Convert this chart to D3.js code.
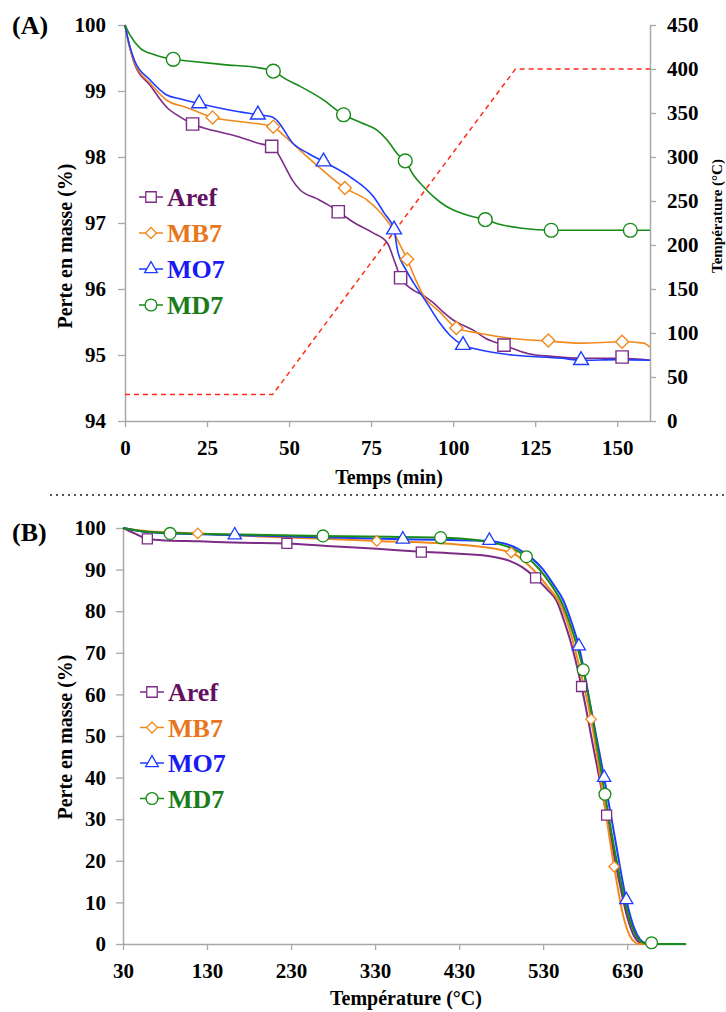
<!DOCTYPE html>
<html><head><meta charset="utf-8">
<script src="https://cdn.jsdelivr.net/npm/d3@7"></script>
<style>
body{margin:0;background:#fff}
svg text{font-family:"Liberation Serif","Times New Roman",serif;font-weight:bold;fill:#000}
</style>
</head><body><svg id="c" width="726" height="1012"></svg>
<script>
// ---------- shared ----------
const seriesNames = ["Aref", "MB7", "MO7", "MD7"];
const lineColors = ["#7B2C85", "#F08A1E", "#1E3CFF", "#178A17"];
const textColors = ["#650F63", "#E8761C", "#1A1AF5", "#1A7D1A"];
const markerTypes = ["square", "diamond", "triangle", "circle"];

// ---------- Chart A : time (min) vs mass (%) ----------
const arefA = [[0,100],[1,99.75],[3,99.4],[7.6,99.09],[12.8,98.75],[17,98.6],[20.6,98.5],[27,98.4],[33,98.33],[41.2,98.2],[44.7,98.16],[46,98.1],[48.3,97.9],[51,97.65],[53.4,97.5],[58.4,97.37],[62,97.27],[65,97.17],[70,97.0],[75.6,96.85],[79.9,96.7],[82.3,96.4],[84,96.17],[86,96.05],[88,95.98],[91,95.9],[94,95.79],[97,95.65],[100,95.53],[103,95.45],[106,95.38],[110,95.25],[115.5,95.15],[123,95.02],[130,94.98],[139,94.95],[151.5,94.95],[160,94.92]];
const mb7A = [[0,100],[1,99.75],[3,99.42],[7.6,99.12],[12.7,98.86],[18.8,98.75],[26.7,98.6],[36,98.53],[45.2,98.46],[48.3,98.33],[53.4,98.1],[59.5,97.83],[67,97.53],[73.7,97.35],[78,97.15],[81,96.95],[83.5,96.7],[86,96.45],[88.5,96.15],[91,95.9],[96,95.65],[101,95.41],[108,95.33],[118,95.25],[129,95.21],[139,95.18],[151.5,95.2],[158,95.18],[160,95.12]];
const mo7A = [[0,100],[1,99.77],[3,99.45],[7.6,99.17],[12.7,98.94],[17,98.88],[22.6,98.81],[33,98.7],[40.5,98.64],[44.7,98.61],[46.2,98.56],[51.3,98.2],[56,98.05],[60.5,97.93],[68.6,97.7],[75.7,97.4],[79,97.15],[82,96.9],[83,96.6],[85.5,96.3],[88,96.09],[92,95.79],[96,95.48],[99,95.3],[103,95.15],[108,95.08],[118,95.0],[133,94.95],[139,94.92],[150,94.93],[160,94.92]];
const md7A = [[0,100],[1.5,99.85],[4.6,99.65],[9,99.55],[14.7,99.48],[20,99.45],[30,99.4],[41,99.35],[45.2,99.3],[49,99.18],[53.4,99.07],[60,98.88],[66.6,98.64],[72,98.52],[76.7,98.41],[80,98.25],[83.3,98.03],[85.4,97.94],[88,97.72],[91,97.55],[94,97.4],[98,97.25],[103,97.14],[109.8,97.05],[115,96.97],[121,96.92],[129.9,96.89],[140,96.89],[154,96.89],[160,96.89]];
const arefMarkA = [[20.6,98.5],[44.7,98.16],[65,97.17],[84,96.17],[115.5,95.15],[151.5,94.97]];
const mb7MarkA = [[26.7,98.6],[45.2,98.46],[67,97.53],[86,96.45],[101,95.41],[129,95.22],[151.5,95.2]];
const mo7MarkA = [[22.6,98.81],[40.5,98.64],[60.5,97.93],[82,96.9],[103,95.15],[139,94.92]];
const md7MarkA = [[14.7,99.48],[45.2,99.3],[66.6,98.64],[85.4,97.94],[109.8,97.05],[129.9,96.89],[154,96.89]];
const tempA = [[0,30],[45,30],[119,400],[160,400]];
const xTicksA = [0,25,50,75,100,125,150];
const yTicksA = [94,95,96,97,98,99,100];
const y2TicksA = [0,50,100,150,200,250,300,350,400,450];

// ---------- Chart B : temperature (°C) vs mass (%) ----------
const arefB = [[30,100],[45,98.6],[59,97.4],[82,97.0],[121,96.8],[161,96.5],[225,96.3],[272,95.7],[332,95.0],[385,94.3],[430,93.8],[470,93.1],[490,92.1],[505,90.6],[521,88.0],[535,85.2],[546,82.5],[555,77.6],[561.8,73.3],[575.7,61.9],[590,47],[605.5,31],[620,15.5],[630,6.5],[638,2],[645,0.3],[650,0],[700,0]];
const mb7B = [[30,100],[60,99.2],[119,98.7],[200,97.9],[270,97.4],[332,96.9],[431,96.0],[492,94.1],[505,92.4],[520,89.6],[535,86.0],[549,82.2],[559,77.2],[568,70.8],[578,62.5],[587,54],[600,37.5],[614.5,18.6],[625,7],[633,2],[640,0.3],[645,0],[700,0]];
const mo7B = [[30,100],[60,99.0],[163,98.3],[260,97.8],[363,97.3],[466,96.9],[485,96.2],[500,95.0],[515,93.0],[530,90.0],[542,86.5],[553.8,82.7],[563,77.8],[572.5,71.6],[587,56.5],[602.6,40],[615,26],[629,10.6],[638,4],[645,1.2],[652,0.2],[658,0],[700,0]];
const md7B = [[30,100],[50,99.3],[86,98.8],[150,98.5],[268,98.1],[408,97.7],[450,97.1],[480,96.0],[495,94.9],[510,93.1],[525,90.2],[540,86.2],[551,82.5],[561,77.5],[570,71.8],[577.7,65.9],[590,52.8],[603.5,36],[617,20.5],[630,8],[640,2.2],[648,0.4],[655,0],[700,0]];
const arefMarkB = [[59,97.4],[225,96.3],[385,94.2],[521,88.0],[575.7,61.9],[605.5,31]];
const mb7MarkB = [[119,98.7],[332,96.9],[492,94.1],[587,54],[614.5,18.6]];
const mo7MarkB = [[163,98.3],[363,97.3],[466,97.0],[572.5,71.6],[602.6,40],[629,10.6]];
const md7MarkB = [[86,98.7],[268,98.1],[408,97.7],[510,93.1],[577.7,65.9],[603.5,36],[659,0.3]];
const xTicksB = [30,130,230,330,430,530,630];
const yTicksB = [0,10,20,30,40,50,60,70,80,90,100];

// ---------- drawing ----------
const svg = d3.select("#c");
const AXC = "#A8A8A8";

function markerPath(type, area) {
  const sym = {square: d3.symbolSquare, diamond: d3.symbolSquare, triangle: d3.symbolTriangle, circle: d3.symbolCircle}[type];
  return d3.symbol().type(sym).size(area)();
}
function drawMarker(g, type, x, y, area, color, sw) {
  g.append("path").attr("d", markerPath(type, area))
    .attr("transform", `translate(${x},${y})` + (type === "diamond" ? " rotate(45)" : ""))
    .attr("fill", "#fff").attr("stroke", color).attr("stroke-width", sw);
}
function styleAxis(g, fs) {
  g.select(".domain").attr("stroke", AXC).attr("stroke-width", 1.5);
  g.selectAll(".tick line").attr("stroke", AXC).attr("stroke-width", 1.3);
  g.selectAll(".tick text").attr("font-size", fs).attr("fill", "#000")
    .style("font-family", '"Liberation Serif",serif').style("font-weight", "bold");
}
function legend(g, x0, y0, dy, areas, fs) {
  seriesNames.forEach((n, i) => {
    const y = y0 + i * dy;
    g.append("line").attr("x1", x0 - 12).attr("x2", x0 + 12).attr("y1", y).attr("y2", y)
      .attr("stroke", lineColors[i]).attr("stroke-width", 1.5);
    drawMarker(g, markerTypes[i], x0, y, areas[i], lineColors[i], 1.3);
    g.append("text").attr("x", x0 + 16).attr("y", y).attr("dy", "0.35em")
      .attr("font-size", fs).style("fill", textColors[i]).text(n);
  });
}
const fmt = d3.format("d");

// Chart A
{
  const x = d3.scaleLinear().domain([0, 160]).range([125, 650]);
  const y = d3.scaleLinear().domain([94, 100]).range([421, 25]);
  const y2 = d3.scaleLinear().domain([0, 450]).range([421, 25]);
  const g = svg.append("g");
  const gx = g.append("g").attr("transform", "translate(0,421)")
    .call(d3.axisBottom(x).tickValues(xTicksA).tickFormat(fmt).tickSize(6).tickSizeOuter(0).tickPadding(13));
  styleAxis(gx, 21);
  const gy = g.append("g").attr("transform", "translate(125,0)")
    .call(d3.axisLeft(y).tickValues(yTicksA).tickFormat(fmt).tickSize(7).tickSizeOuter(0).tickPadding(12));
  styleAxis(gy, 21);
  const gy2 = g.append("g").attr("transform", "translate(650,0)")
    .call(d3.axisRight(y2).tickValues(y2TicksA).tickFormat(fmt).tickSize(6).tickSizeOuter(0).tickPadding(11));
  styleAxis(gy2, 21);

  g.append("path").datum(tempA).attr("fill", "none").attr("stroke", "#FF2A1A")
    .attr("stroke-width", 1.5).attr("stroke-dasharray", "5,4")
    .attr("d", d3.line().x(d => x(d[0])).y(d => y2(d[1])));

  const curves = [arefA, mb7A, mo7A, md7A];
  const marks = [arefMarkA, mb7MarkA, mo7MarkA, md7MarkA];
  const line = d3.line().x(d => x(d[0])).y(d => y(d[1])).curve(d3.curveMonotoneX);
  curves.forEach((c, i) => g.append("path").datum(c).attr("fill", "none")
    .attr("stroke", lineColors[i]).attr("stroke-width", 1.6).attr("d", line));
  const areas = [150, 85, 95, 150];
  marks.forEach((m, i) => m.forEach(p => drawMarker(g, markerTypes[i], x(p[0]), y(p[1]), areas[i], lineColors[i], 1.4)));

  legend(g, 151, 197, 36, [110, 60, 70, 110], 26);

  g.append("text").attr("x", 12).attr("y", 34).attr("font-size", 26).text("(A)");
  g.append("text").attr("x", 389).attr("y", 484).attr("text-anchor", "middle").attr("font-size", 20).text("Temps (min)");
  g.append("text").attr("transform", "translate(72,246) rotate(-90)").attr("text-anchor", "middle").attr("font-size", 20).text("Perte en masse (%)");
  g.append("text").attr("transform", "translate(722,216) rotate(-90)").attr("text-anchor", "middle").attr("font-size", 15).text("Température (°C)");
}

// separator
svg.append("line").attr("x1", 50).attr("x2", 726).attr("y1", 495).attr("y2", 495)
  .attr("stroke", "#555").attr("stroke-width", 2).attr("stroke-dasharray", "2,4");

// Chart B
{
  const x = d3.scaleLinear().domain([30, 700]).range([123, 686]);
  const y = d3.scaleLinear().domain([0, 100]).range([944, 528]);
  const g = svg.append("g");
  const gx = g.append("g").attr("transform", "translate(0,944)")
    .call(d3.axisBottom(x).tickValues(xTicksB).tickFormat(fmt).tickSize(6).tickSizeOuter(0).tickPadding(13));
  styleAxis(gx, 21);
  const gy = g.append("g").attr("transform", "translate(123,0)")
    .call(d3.axisLeft(y).tickValues(yTicksB).tickFormat(fmt).tickSize(7).tickSizeOuter(0).tickPadding(10));
  styleAxis(gy, 21);

  const curves = [arefB, mb7B, mo7B, md7B];
  const marks = [arefMarkB, mb7MarkB, mo7MarkB, md7MarkB];
  const line = d3.line().x(d => x(d[0])).y(d => y(d[1])).curve(d3.curveMonotoneX);
  curves.forEach((c, i) => g.append("path").datum(c).attr("fill", "none")
    .attr("stroke", lineColors[i]).attr("stroke-width", 2).attr("d", line));
  const areas = [100, 55, 75, 110];
  marks.forEach((m, i) => m.forEach(p => drawMarker(g, markerTypes[i], x(p[0]), y(p[1]), areas[i], lineColors[i], 1.3)));

  legend(g, 152, 692, 35.5, [110, 60, 70, 110], 26);

  g.append("text").attr("x", 12).attr("y", 541).attr("font-size", 26).text("(B)");
  g.append("text").attr("x", 406).attr("y", 1005).attr("text-anchor", "middle").attr("font-size", 20).text("Température (°C)");
  g.append("text").attr("transform", "translate(72,737) rotate(-90)").attr("text-anchor", "middle").attr("font-size", 20).text("Perte en masse (%)");
}
</script></body></html>
